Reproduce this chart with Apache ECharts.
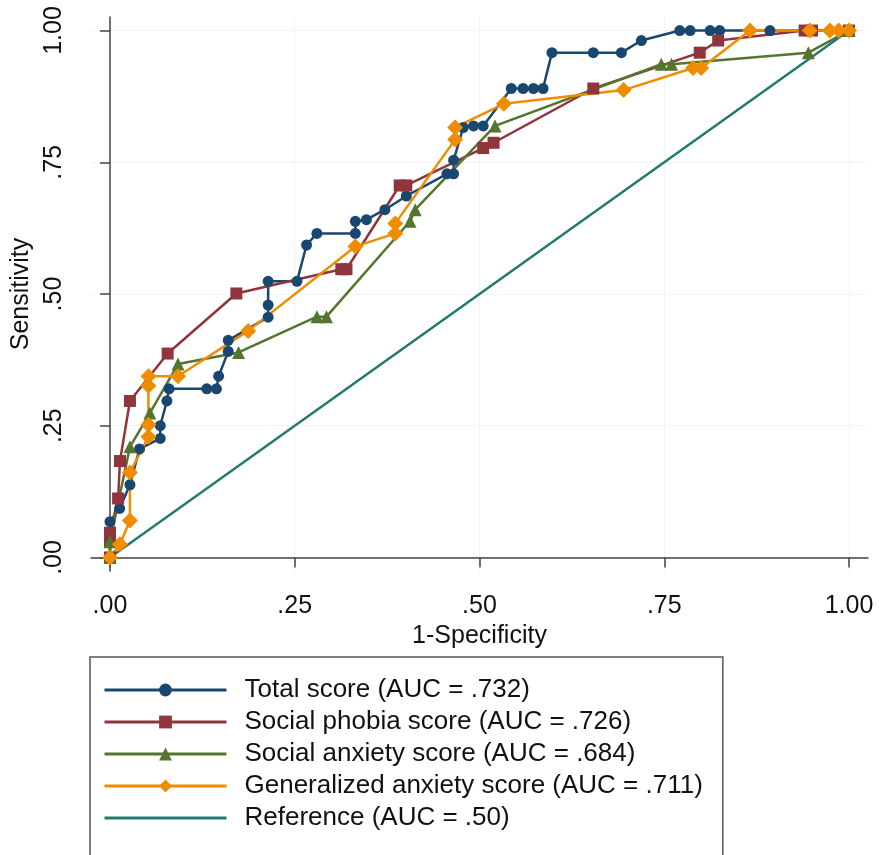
<!DOCTYPE html>
<html>
<head>
<meta charset="utf-8">
<script src="https://cdn.jsdelivr.net/npm/echarts@6/dist/echarts.min.js"></script>
<style>
  html, body { margin: 0; padding: 0; background: #fff; }
  #chart { width: 879px; height: 855px; }
</style>
</head>
<body>
<div id="chart"></div>
<script>
// ROC curves, [1-specificity, sensitivity]
const totalScore = [[0,0],[0,0.068],[0.013,0.093],[0.027,0.138],[0.04,0.206],[0.068,0.226],[0.068,0.25],[0.077,0.297],[0.08,0.32],[0.131,0.32],[0.144,0.32],[0.147,0.344],[0.16,0.391],[0.16,0.412],[0.214,0.456],[0.214,0.479],[0.214,0.524],[0.253,0.524],[0.266,0.593],[0.28,0.615],[0.332,0.615],[0.332,0.638],[0.347,0.641],[0.372,0.66],[0.401,0.686],[0.456,0.728],[0.465,0.728],[0.465,0.754],[0.478,0.816],[0.492,0.819],[0.505,0.819],[0.543,0.89],[0.559,0.89],[0.573,0.89],[0.586,0.89],[0.598,0.958],[0.654,0.958],[0.692,0.958],[0.719,0.981],[0.771,1],[0.785,1],[0.812,1],[0.825,1],[0.893,1],[0.95,1],[1,1]]
const socialPhobia = [[0,0],[0,0.03],[0,0.047],[0.011,0.112],[0.0135,0.183],[0.027,0.297],[0.078,0.387],[0.171,0.501],[0.313,0.547],[0.32,0.547],[0.392,0.706],[0.401,0.706],[0.505,0.777],[0.519,0.787],[0.654,0.89],[0.798,0.958],[0.823,0.981],[0.94,1],[0.95,1],[1,1]]
const socialAnxiety = [[0,0],[0,0.03],[0.027,0.21],[0.054,0.274],[0.092,0.367],[0.174,0.389],[0.28,0.457],[0.293,0.457],[0.406,0.638],[0.413,0.66],[0.521,0.819],[0.746,0.936],[0.76,0.936],[0.945,0.958],[1,1]]
const generalizedAnxiety = [[0,0],[0.0135,0.025],[0.027,0.07],[0.027,0.161],[0.052,0.229],[0.052,0.252],[0.052,0.326],[0.052,0.344],[0.092,0.344],[0.187,0.43],[0.332,0.59],[0.386,0.615],[0.386,0.634],[0.467,0.793],[0.467,0.816],[0.533,0.861],[0.695,0.887],[0.789,0.929],[0.8,0.929],[0.866,1],[0.947,1],[0.974,1],[0.986,1],[1,1]]
const reference = [[0,0],[1,1]]

const seriesNames = ['Total score (AUC = .732)', 'Social phobia score (AUC = .726)', 'Social anxiety score (AUC = .684)', 'Generalized anxiety score (AUC = .711)', 'Reference (AUC = .50)']
const tickValues = [0, 0.25, 0.5, 0.75, 1]
const tickLabels = ['.00', '.25', '.50', '.75', '1.00']

const FONT = 'Liberation Sans, Arial, sans-serif'
const fmt = v => tickLabels[tickValues.findIndex(t => Math.abs(t - v) < 1e-6)] || ''

function axis (name, isY) {
  return {
    type: 'value',
    min: -0.0257,
    max: 1.0257,
    name,
    nameLocation: 'middle',
    nameGap: isY ? 57 : 46,
    nameTextStyle: { fontSize: 25, color: '#111', fontFamily: FONT },
    axisLine: { show: true, lineStyle: { color: '#444', width: 1.5 } },
    axisTick: { show: true, length: 10, customValues: tickValues, lineStyle: { color: '#444', width: 1.5 } },
    axisLabel: {
      customValues: tickValues, formatter: fmt, fontSize: 25, color: '#111', fontFamily: FONT,
      margin: isY ? 24 : 23, rotate: isY ? 90 : 0
    },
    splitLine: { show: true, lineStyle: { color: '#f1f3f4', width: 1 } }
  }
}

function curve (name, data, color, symbol, size) {
  return {
    name, type: 'line', data, symbol, symbolSize: size,
    showSymbol: symbol !== 'none',
    lineStyle: { color, width: 2.5 },
    itemStyle: { color },
    emphasis: { disabled: true }
  }
}

const legendData = seriesNames.map((name, i) =>
  i === 4 ? { name, itemStyle: { opacity: 0 } } : { name })

const chart = echarts.init(document.getElementById('chart'))
chart.setOption({
  animation: false,
  backgroundColor: '#fff',
  grid: { left: 91, right: 11, top: 17, bottom: 284, outerBoundsMode: 'none' },
  xAxis: axis('1-Specificity', false),
  yAxis: axis('Sensitivity', true),
  legend: {
    orient: 'vertical', left: 90, top: 657, height: 400,
    itemWidth: 122, itemHeight: 16, itemGap: 6,
    padding: [20, 20, 40, 13],
    borderColor: '#555', borderWidth: 1.5,
    selectedMode: false,
    lineStyle: { width: 3 },
    textStyle: { fontSize: 26, lineHeight: 25, color: '#111', fontFamily: FONT, padding: [0, 0, 0, 13] },
    data: legendData
  },
  series: [
    curve(seriesNames[0], totalScore, '#1a476f', 'circle', 11),
    curve(seriesNames[1], socialPhobia, '#90353b', 'rect', 12),
    curve(seriesNames[2], socialAnxiety, '#55752f', 'triangle', 13),
    curve(seriesNames[3], generalizedAnxiety, '#f08c00', 'diamond', 16),
    curve(seriesNames[4], reference, '#237a6f', 'none', 0)
  ]
})
</script>
</body>
</html>
